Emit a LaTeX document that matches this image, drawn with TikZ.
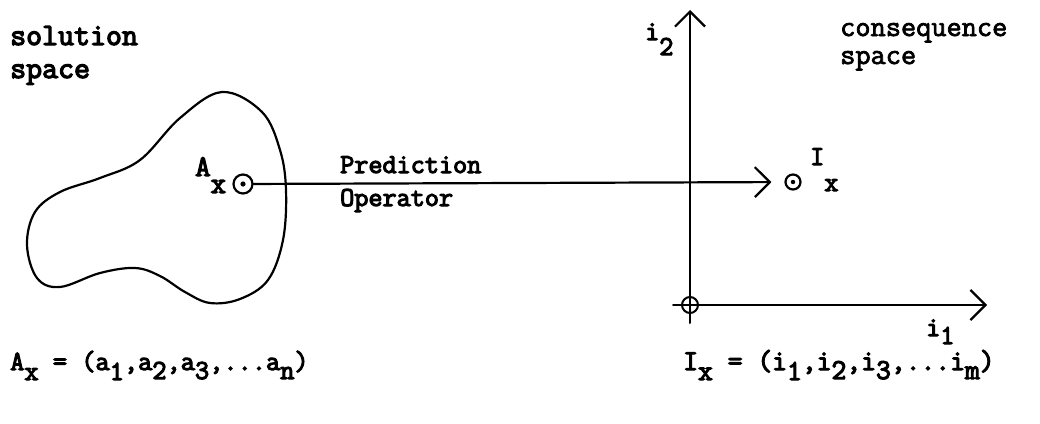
\documentclass[tikz,border=0pt]{standalone}
\usepackage{fontspec}
\usetikzlibrary{arrows.meta}
\newfontfamily\tw{Latin Modern Mono}[FakeBold=4]
\newfontfamily\twl{Latin Modern Mono}[FakeBold=2.5]
\newcommand{\lowr}[2]{\raisebox{-#2pt}{#1}}
\begin{document}
\begin{tikzpicture}[x=1pt,y=-1pt,
  txt/.style={anchor=base west,inner sep=0pt,font=\tw\fontsize{27.4}{30}\selectfont},
  bigtxt/.style={txt,font=\tw\fontsize{31}{33}\selectfont},
  constxt/.style={txt,font=\twl\fontsize{29.5}{30}\selectfont},
  ln/.style={line width=2.2pt,line cap=round,line join=round},
  barb/.style={-{Straight Barb[length=15pt,width=30pt,line width=2.2pt]}},
  pt/.style={circle,draw,line width=2.2pt,inner sep=0pt,minimum size=#1}
]
\useasboundingbox (0,0) rectangle (1040,423);

% solution space blob
\draw[ln] plot[smooth cycle,tension=0.6] coordinates{
 (222,92) (262,112) (280,150) (286,190) (283,240) (268,280) (240,299) (210,303)
 (185,292) (160,276) (135,268) (100,273) (60,287) (37,278) (27,245) (35,212)
 (60,192) (100,178) (140,160) (180,118)};

% labels
\node[bigtxt] (sol1) at (10,45) {solution};
\node[bigtxt] (sol2) at (10,78) {space};
\node[constxt] (con1) at (840,36) {consequence};
\node[constxt] (con2) at (840,64) {space};
\node[txt] (pred) at (340,173) {Prediction};
\node[txt] (oper) at (340,206) {Operator};

% points
\node[pt=19pt] (ax) at (243,184) {};
\fill (ax.center) circle (2.6pt);
\node[txt,font=\tw\fontsize{30}{30}\selectfont] (axl) at (195,176) {A\lowr{x}{17}};
\node[pt=15pt] (ix) at (793,182) {};
\fill (ix.center) circle (2.2pt);
\node[txt] (ixl) at (810,165) {I\lowr{x}{26}};

% prediction arrow
\draw[ln,barb,shorten >=13pt] (ax) -- (ix);

% axes
\coordinate (ytop) at (690,10);
\coordinate (ybot) at (690,323);
\coordinate (xleft) at (673,305);
\coordinate (xright) at (987,305);
\draw[ln,line width=2pt,barb] (ybot) -- (ytop);
\draw[ln,line width=2pt,barb] (xleft) -- (xright);
\node[pt=16pt,line width=2pt] (orig) at (690,305) {};
\node[txt] (i2) at (645,40) {i\lowr{2}{15}};
\node[txt] (i1) at (926,336) {i\lowr{1}{8}};

% formulas
\node[txt,font=\tw\fontsize{27.6}{30}\selectfont] (fa) at (10,370) {A\lowr{x}{10} = (a\lowr{1}{10},a\lowr{2}{9},a\lowr{3}{9},...a\lowr{n}{9})};
\node[txt,font=\tw\fontsize{28.8}{30}\selectfont] (fi) at (683,370) {I\lowr{x}{10} = (i\lowr{1}{10},i\lowr{2}{9},i\lowr{3}{9},...i\lowr{m}{9})};
\end{tikzpicture}
\end{document}
